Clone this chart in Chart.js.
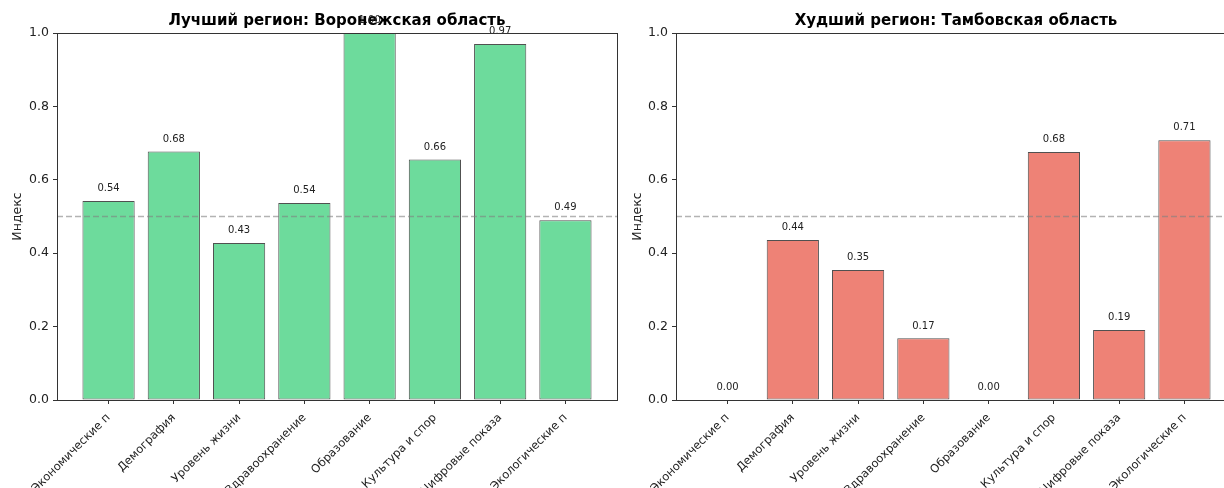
<!DOCTYPE html>
<html>
<head>
<meta charset="utf-8">
<script src="https://cdn.jsdelivr.net/npm/chart.js@4/dist/chart.umd.min.js"></script>
<style>
  html, body { margin: 0; padding: 0; background: #fff; overflow: hidden; }
  #wrap { width: 1224px; height: 488px; overflow: hidden; position: relative; }
  canvas { position: absolute; top: 0; }
</style>
</head>
<body>
<div id="wrap">
<canvas id="left" width="674" height="488" style="left:0px"></canvas>
<canvas id="right" width="672" height="488" style="left:620px"></canvas>
</div>
<script>
const categories = ["Экономические п", "Демография", "Уровень жизни", "Здравоохранение", "Образование", "Культура и спор", "Цифровые показа", "Экологические п"];
const bestTitle = "Лучший регион: Воронежская область";
const worstTitle = "Худший регион: Тамбовская область";
const bestValues = [0.542, 0.677, 0.428, 0.537, 1.0, 0.655, 0.970, 0.490];
const worstValues = [0.0, 0.436, 0.354, 0.168, 0.0, 0.676, 0.191, 0.708];
const yTicks = [0.0, 0.2, 0.4, 0.6, 0.8, 1.0];
const threshold = 0.5;
const yLabel = "Индекс";

Chart.defaults.font.family = "'DejaVu Sans', sans-serif";
Chart.defaults.color = "#222";

const framePlugin = {
  id: 'frame',
  afterDatasetsDraw(chart) {
    const {ctx, chartArea: a, scales} = chart;
    ctx.save();
    const yy = scales.y.getPixelForValue(threshold);
    ctx.strokeStyle = 'rgba(128,128,128,0.6)';
    ctx.lineWidth = 1.5;
    ctx.setLineDash([6, 3]);
    ctx.beginPath();
    ctx.moveTo(a.left, yy);
    ctx.lineTo(a.right, yy);
    ctx.stroke();
    ctx.setLineDash([]);
    const meta = chart.getDatasetMeta(0);
    const vals = chart.data.datasets[0].data;
    ctx.fillStyle = '#222';
    ctx.font = "10px 'DejaVu Sans'";
    ctx.textAlign = 'center';
    ctx.textBaseline = 'bottom';
    meta.data.forEach((bar, i) => {
      const v = vals[i].y;
      ctx.fillText(v.toFixed(2), bar.x, scales.y.getPixelForValue(v + 0.02));
    });
    ctx.strokeStyle = '#333';
    ctx.lineWidth = 1;
    ctx.strokeRect(Math.round(a.left) + 0.5, Math.round(a.top) + 0.5, Math.round(a.right - a.left), Math.round(a.bottom - a.top));
    ctx.restore();
  }
};

function makeChart(id, title, values, fill, axisWidth) {
  return new Chart(document.getElementById(id), {
    type: 'bar',
    data: {
      datasets: [{
        data: values.map((v, i) => ({x: i, y: v})),
        backgroundColor: fill,
        borderColor: '#505050',
        borderWidth: 1,
        borderSkipped: false,
        barPercentage: 0.8,
        categoryPercentage: 1.0
      }]
    },
    options: {
      responsive: false,
      animation: false,
      devicePixelRatio: 1,
      layout: { padding: 0 },
      plugins: {
        legend: { display: false },
        tooltip: { enabled: false },
        title: {
          display: true,
          text: title,
          color: '#000',
          font: { size: 15, weight: 'bold' },
          padding: { top: 12, bottom: 3 }
        }
      },
      scales: {
        x: {
          type: 'linear',
          offset: false,
          min: -0.79,
          max: 7.79,
          afterBuildTicks: s => { s.ticks = categories.map((_, i) => ({value: i})); },
          afterFit: s => { s.height = 88; },
          ticks: {
            autoSkip: false,
            maxRotation: 45,
            minRotation: 45,
            padding: 7,
            color: '#222',
            font: { size: 11.5 },
            callback: v => categories[v]
          },
          grid: { offset: false, drawOnChartArea: false, drawTicks: true, tickLength: 4, color: '#333' },
          border: { display: true, color: '#333' }
        },
        y: {
          type: 'linear',
          position: 'left',
          min: 0,
          max: 1,
          afterBuildTicks: s => { s.ticks = yTicks.map(v => ({value: v})); },
          afterFit: s => { s.width = axisWidth; },
          ticks: {
            padding: 4,
            color: '#222',
            font: { size: 12.5 },
            callback: v => Number(v).toFixed(1)
          },
          title: {
            display: true,
            text: yLabel,
            color: '#222',
            font: { size: 12.5 },
            padding: { top: 10, bottom: 0 }
          },
          grid: { drawOnChartArea: false, drawTicks: true, tickLength: 4, color: '#333' },
          border: { display: true, color: '#333' }
        },
        pad: {
          type: 'linear',
          position: 'right',
          display: true,
          afterFit: s => { s.width = axisWidth; },
          ticks: { display: false },
          grid: { display: false },
          border: { display: false }
        }
      }
    },
    plugins: [framePlugin]
  });
}

makeChart('left', bestTitle, bestValues, 'rgb(109,219,156)', 57);
makeChart('right', worstTitle, worstValues, 'rgb(238,130,118)', 56);
</script>
</body>
</html>
